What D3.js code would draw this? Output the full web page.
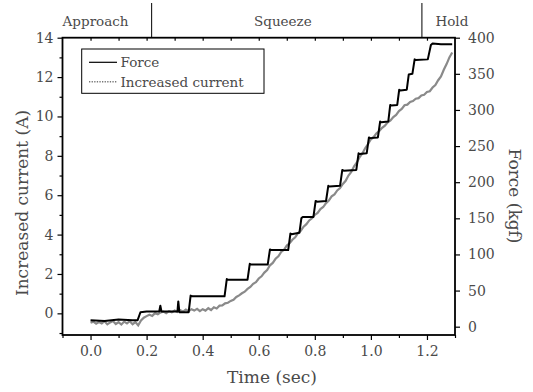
<!DOCTYPE html>
<html>
<head>
<meta charset="utf-8">
<script src="https://cdn.jsdelivr.net/npm/d3@7"></script>
<style>
  body { margin:0; background:#fff; }
  svg text { font-family:"DejaVu Serif", serif; fill:#4a4a4a; }
</style>
</head>
<body>
<script>
// time (sec) and increased current (A)
var currentT = [0.00,0.01,0.02,0.03,0.04,0.05,0.06,0.07,0.08,0.09,0.10,0.11,0.12,0.13,0.14,0.15,0.16,0.17,0.18,0.19,
  0.20,0.21,0.22,0.23,0.24,0.25,0.26,0.27,0.28,0.29,0.30,0.31,0.32,0.33,0.34,0.35,0.36,0.37,0.38,0.39,
  0.40,0.41,0.42,0.43,0.44,0.45,0.46,0.47,0.48,0.49,0.50,0.51,0.52,0.53,0.54,0.55,0.56,0.57,0.58,0.59,
  0.60,0.61,0.62,0.63,0.64,0.65,0.66,0.67,0.68,0.69,0.70,0.71,0.72,0.73,0.74,0.75,0.76,0.77,0.78,0.79,
  0.80,0.81,0.82,0.83,0.84,0.85,0.86,0.87,0.88,0.89,0.90,0.91,0.92,0.93,0.94,0.95,0.96,0.97,0.98,0.99,
  1.00,1.01,1.02,1.03,1.04,1.05,1.06,1.07,1.08,1.09,1.10,1.11,1.12,1.13,1.14,1.15,1.16,1.17,1.18,1.19,
  1.20,1.21,1.22,1.23,1.24,1.25,1.26,1.27,1.28,1.29];
var currentA = [-0.48,-0.42,-0.53,-0.44,-0.51,-0.40,-0.56,-0.46,-0.39,-0.54,-0.45,-0.57,-0.42,-0.51,-0.40,-0.55,-0.44,-0.61,-0.36,-0.22,
  -0.14,-0.07,-0.13,0.01,-0.05,0.05,0.09,0.01,0.11,0.05,0.14,0.07,0.16,0.09,0.19,0.11,0.21,0.14,0.23,0.11,
  0.21,0.14,0.26,0.17,0.31,0.25,0.39,0.40,0.51,0.54,0.63,0.69,0.83,0.91,1.02,1.10,1.24,1.34,1.50,1.58,
  1.77,1.88,2.07,2.20,2.44,2.56,2.77,2.90,3.12,3.23,3.44,3.56,3.74,3.86,4.07,4.20,4.40,4.53,4.72,4.83,
  5.00,5.10,5.30,5.40,5.60,5.73,5.94,6.04,6.24,6.36,6.57,6.73,7.00,7.18,7.47,7.66,7.94,8.13,8.40,8.60,
  8.84,8.96,9.14,9.26,9.42,9.53,9.70,9.80,9.97,10.08,10.27,10.38,10.57,10.60,10.74,10.78,10.90,10.93,11.07,11.10,
  11.24,11.28,11.47,11.60,11.84,12.03,12.37,12.66,13.00,13.25];

// time (sec) and force (kgf)
var forceT = [0.00,0.05,0.10,0.15,0.168,0.178,0.20,0.245,0.249,0.253,0.31,0.313,0.317,0.35,0.357,0.362,0.40,0.45,0.478,0.486,0.49,0.52,0.56,
  0.568,0.572,0.60,0.632,0.640,0.645,0.675,0.705,0.713,0.717,0.745,0.752,0.757,0.795,0.803,0.808,0.84,0.848,0.852,0.89,0.898,0.903,
  0.948,0.956,0.960,0.985,0.993,0.997,1.025,1.033,1.037,1.062,1.069,1.073,1.094,1.101,1.105,1.128,1.135,1.148,1.156,1.160,
  1.203,1.214,1.220,1.25,1.29];
var forceKgf = [9,8,10,9,9,20,21,21,29,21,21,35,20,20,43,42,42,42,42,66,65,65,65,
  87,86,86,86,107,106,106,106,129,128,130,150,152,152,174,173,174,195,194,195,217,216,
  217,240,239,240,262,261,262,284,283,284,307,306,307,328,327,328,349,350,370,369,
  370,390,392,391,391];

var phaseNames = ["Approach", "Squeeze", "Hold"];
var phaseLabelT = [0.018, 0.686, 1.289];
var phaseBounds = [0.218, 1.182];

var xMajor = [0.0,0.2,0.4,0.6,0.8,1.0,1.2];
var xMinor = [-0.1,0.1,0.3,0.5,0.7,0.9,1.1,1.3];
var xTop = [0.0,0.1,0.2,0.3,0.4,0.5,0.6,0.7,0.8,0.9,1.0,1.1,1.2];
var yLeftMajor = [0,2,4,6,8,10,12,14];
var yLeftMinor = [-1,1,3,5,7,9,11,13];
var yRightTicks = [0,50,100,150,200,250,300,350,400];

var W = 533, H = 392;
var pLeft = 62.5, pRight = 455, pTop = 37.7, pBottom = 335;

var svg = d3.select("body").append("svg")
    .attr("width", W).attr("height", H);

var x = d3.scaleLinear().domain([-0.1, 1.3]).range([pLeft, pRight]);
var yL = d3.scaleLinear().domain([-1.1, 14]).range([pBottom, pTop]);
var yR = d3.scaleLinear().domain([-11.5, 400]).range([pBottom, pTop]);

// lines
var currentData = currentT.map(function(t, i){ return [t, currentA[i]]; });
var forceData = forceT.map(function(t, i){ return [t, forceKgf[i]]; });

svg.append("path")
    .datum(currentData)
    .attr("fill", "none")
    .attr("stroke", "#8a8a8a")
    .attr("stroke-width", 2.2)
    .attr("d", d3.line().x(function(d){ return x(d[0]); }).y(function(d){ return yL(d[1]); }));

svg.append("path")
    .datum(forceData)
    .attr("fill", "none")
    .attr("stroke", "#000")
    .attr("stroke-width", 2)
    .attr("stroke-linejoin", "round")
    .attr("d", d3.line().x(function(d){ return x(d[0]); }).y(function(d){ return yR(d[1]); }));

// axes
function styleAxis(g, size){
    g.select(".domain").remove();
    g.selectAll(".tick line").attr("stroke", "#000").attr("stroke-width", 1.2);
    g.selectAll("text").style("font-size", size + "px").attr("fill", "#4a4a4a");
}

svg.append("g").attr("transform", "translate(0," + pBottom + ")")
    .call(d3.axisBottom(x).tickValues(xMajor).tickSize(5).tickPadding(6).tickFormat(d3.format(".1f")))
    .call(styleAxis, 14);
svg.append("g").attr("transform", "translate(0," + pBottom + ")")
    .call(d3.axisBottom(x).tickValues(xMinor).tickSize(3).tickFormat(""))
    .call(styleAxis, 14);

svg.append("g").attr("transform", "translate(0," + pTop + ")")
    .call(d3.axisTop(x).tickValues(xTop).tickSize(-3).tickFormat(""))
    .call(styleAxis, 14);

svg.append("g").attr("transform", "translate(" + pLeft + ",0)")
    .call(d3.axisLeft(yL).tickValues(yLeftMajor).tickSize(5).tickPadding(4))
    .call(styleAxis, 14);
svg.append("g").attr("transform", "translate(" + pLeft + ",0)")
    .call(d3.axisLeft(yL).tickValues(yLeftMinor).tickSize(3).tickFormat(""))
    .call(styleAxis, 14);

svg.append("g").attr("transform", "translate(" + pRight + ",0)")
    .call(d3.axisRight(yR).tickValues(yRightTicks).tickSize(5).tickPadding(8))
    .call(styleAxis, 14);

// frame
svg.append("rect")
    .attr("x", pLeft).attr("y", pTop)
    .attr("width", pRight - pLeft).attr("height", pBottom - pTop)
    .attr("fill", "none").attr("stroke", "#000").attr("stroke-width", 1.8);

// phases on top
svg.selectAll(".phaseLine").data(phaseBounds).enter().append("line")
    .attr("class", "phaseLine")
    .attr("x1", function(d){ return x(d); }).attr("x2", function(d){ return x(d); })
    .attr("y1", 3).attr("y2", pTop)
    .attr("stroke", "#000").attr("stroke-width", 1);

svg.selectAll(".phaseLabel").data(phaseNames).enter().append("text")
    .attr("class", "phaseLabel")
    .attr("x", function(d, i){ return x(phaseLabelT[i]); })
    .attr("y", 26)
    .attr("text-anchor", "middle")
    .style("font-size", "13.5px")
    .text(function(d){ return d; });

// axis titles
svg.append("text")
    .attr("x", 272).attr("y", 383)
    .attr("text-anchor", "middle")
    .style("font-size", "17px")
    .text("Time (sec)");

svg.append("text")
    .attr("transform", "translate(28,203) rotate(-90)")
    .attr("text-anchor", "middle")
    .style("font-size", "17px")
    .text("Increased current (A)");

svg.append("text")
    .attr("transform", "translate(509,196) rotate(90)")
    .attr("text-anchor", "middle")
    .style("font-size", "17px")
    .text("Force (kgf)");

// legend
var legend = svg.append("g");
legend.append("rect")
    .attr("x", 81.7).attr("y", 49).attr("width", 182.3).attr("height", 44.3)
    .attr("fill", "#fff").attr("stroke", "#000").attr("stroke-width", 1);
legend.append("line")
    .attr("x1", 89).attr("x2", 117).attr("y1", 62.3).attr("y2", 62.3)
    .attr("stroke", "#000").attr("stroke-width", 1.2);
legend.append("line")
    .attr("x1", 89).attr("x2", 117).attr("y1", 81.7).attr("y2", 81.7)
    .attr("stroke", "#777").attr("stroke-width", 1.6).attr("stroke-dasharray", "1.3,1.3");
legend.append("text").attr("x", 120.5).attr("y", 67).style("font-size", "13.5px").text("Force");
legend.append("text").attr("x", 120.5).attr("y", 86.5).style("font-size", "13.5px").text("Increased current");
</script>
</body>
</html>
